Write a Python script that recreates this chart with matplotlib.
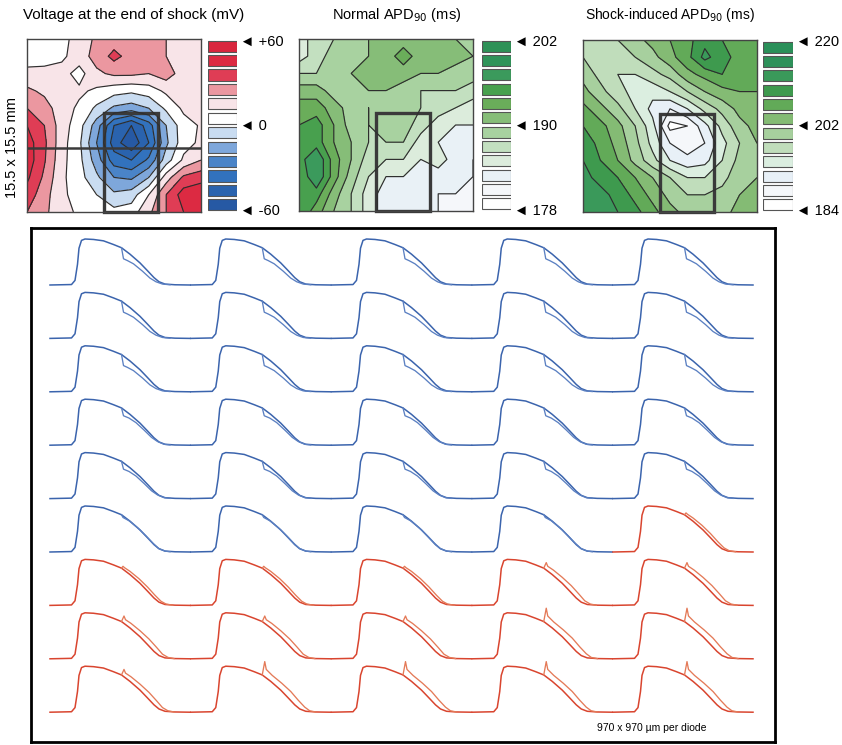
import numpy as np
import matplotlib
matplotlib.use("Agg")
import matplotlib.pyplot as plt
from matplotlib.patches import Rectangle

plt.rcParams['font.family'] = ['Liberation Sans', 'DejaVu Sans']

# ---------------- top maps: 11x11 grids, top row first ----------------
voltage_map = [
    [5, 5, 7, 14, 22, 25, 24, 22, 20, 15, 13],
    [5, 6, 8, 15, 24, 33, 26, 23, 20, 16, 14],
    [13, 13, 14, 6, 18, 22, 22, 20, 25, 15, 14],
    [22, 18, 14, 12, 8, 4, 2, 5, 12, 14, 13],
    [30, 24, 15, 8, -2, -12, -15, -10, 2, 12, 12],
    [40, 30, 15, 4, -15, -40, -50, -35, -10, 6, 11],
    [45, 32, 14, 2, -20, -45, -58, -40, -12, 6, 12],
    [46, 31, 13, 3, -15, -35, -40, -28, -5, 12, 20],
    [42, 28, 12, 4, -8, -20, -22, -10, 15, 32, 36],
    [36, 24, 12, 6, 0, -8, -5, 10, 30, 45, 48],
    [30, 22, 14, 8, 6, 3, 5, 18, 30, 40, 42],
]
normal_apd_map = [
    [185, 187, 188, 189, 190, 191, 191, 191, 191, 190, 190],
    [185, 187, 189, 190, 190, 191, 193, 191, 191, 191, 190],
    [188, 188, 189, 190, 191, 191, 191, 190, 190, 189, 189],
    [191, 191, 189, 189, 190, 190, 189, 188, 188, 188, 187],
    [193, 193, 191, 189, 188, 190, 189, 188, 187, 186, 185],
    [194, 195, 192, 189, 188, 190, 189, 187, 185, 184, 184],
    [194, 195, 192, 190, 188, 188, 188, 185, 184, 183, 183],
    [195, 198, 193, 190, 187, 186, 186, 184, 185, 183, 182],
    [194, 198, 193, 189, 186, 184, 184, 183, 183, 184, 182],
    [196, 195, 191, 188, 185, 183, 183, 183, 182, 182, 182],
    [196, 193, 190, 188, 185, 183, 183, 183, 182, 182, 182],
]
shock_apd_map = [
    [199, 198, 199, 201, 203, 205, 207, 210, 208, 206, 205],
    [199, 197, 197, 199, 201, 204, 207, 212, 209, 207, 206],
    [201, 198, 196, 196, 198, 200, 204, 206, 208, 207, 206],
    [203, 200, 197, 195, 194, 196, 199, 202, 204, 205, 205],
    [206, 203, 200, 196, 192, 190, 193, 197, 200, 203, 204],
    [208, 206, 203, 199, 194, 186, 187, 192, 197, 201, 203],
    [210, 207, 204, 200, 195, 190, 188, 190, 195, 199, 202],
    [211, 208, 205, 201, 197, 193, 191, 192, 196, 200, 202],
    [212, 210, 208, 205, 202, 199, 196, 196, 198, 201, 202],
    [213, 212, 210, 207, 204, 201, 199, 199, 200, 202, 203],
    [214, 213, 211, 209, 206, 203, 201, 200, 201, 203, 204],
]

voltage_levels = list(range(-60, 61, 10))
normal_levels = list(range(178, 203, 2))
shock_levels = list(range(184, 221, 3))

# colours from lowest band to highest band
voltage_colors = ['#2659a4', '#2a63ae', '#3272bd', '#4a84c8', '#7ea7db', '#c9dcf1',
                  '#ffffff', '#f8e4e8', '#eb97a0', '#df3d55', '#dc2a42', '#d9263e']
normal_colors = ['#ffffff', '#f5f7fa', '#e9f1f6', '#dcecdc', '#c3e0c0', '#a8d2a0',
                 '#86bd78', '#6aad5a', '#48a04e', '#3b9a5c', '#2f9359', '#2e9157']
shock_colors = ['#ffffff', '#f5f7fa', '#e8f0f7', '#dbeee0', '#c0ddbb', '#a7d09e',
                '#84bb74', '#62aa58', '#3e9a4e', '#3a995a', '#2e915a', '#2a9059']

voltage_ticks = ['+60', '0', '-60']
normal_ticks = ['202', '190', '178']
shock_ticks = ['220', '202', '184']

map_titles = ['Voltage at the end of shock (mV)',
              r'Normal APD$_{90}$ (ms)',
              r'Shock-induced APD$_{90}$ (ms)']

# ---------------- optical traces ----------------
# control action potential (ms, normalised amplitude)
ap_t = [0, 43, 50, 55, 58, 63, 70, 87, 107, 127, 143, 160, 180, 195, 208, 218, 230, 250, 280]
ap_v = [0, 0.01, 0.1, 0.45, 0.8, 0.97, 1.0, 0.99, 0.96, 0.88, 0.81, 0.67, 0.48, 0.31,
        0.16, 0.07, 0.02, 0.005, 0]

# shocked recordings, from the moment of the shock onward
shock_waves = {
    'b1': ([143, 147, 155, 167, 185, 200, 212, 225, 240],
           [0.81, 0.57, 0.53, 0.46, 0.30, 0.15, 0.07, 0.02, 0.005]),
    'b2': ([143, 147, 158, 172, 188, 203, 215, 228, 240],
           [0.81, 0.64, 0.59, 0.49, 0.33, 0.17, 0.08, 0.02, 0.005]),
    'b3': ([143, 146, 158, 175, 192, 206, 217, 230, 240],
           [0.81, 0.75, 0.68, 0.53, 0.35, 0.19, 0.08, 0.02, 0.005]),
    'r1': ([143, 146, 149, 160, 178, 195, 210, 222, 232, 245],
           [0.81, 0.85, 0.82, 0.74, 0.58, 0.40, 0.22, 0.09, 0.03, 0.005]),
    'r2': ([143, 148, 151, 162, 180, 198, 213, 225, 236, 248],
           [0.81, 0.93, 0.85, 0.77, 0.61, 0.43, 0.25, 0.10, 0.03, 0.005]),
    'r3': ([143, 148, 151, 163, 182, 200, 215, 228, 238, 250],
           [0.81, 1.10, 0.93, 0.80, 0.63, 0.45, 0.26, 0.11, 0.03, 0.005]),
}

trace_kind = [
    ['b1', 'b1', 'b1', 'b1', 'b1'],
    ['b1', 'b1', 'b1', 'b1', 'b1'],
    ['b1', 'b1', 'b1', 'b1', 'b1'],
    ['b2', 'b2', 'b2', 'b2', 'b2'],
    ['b2', 'b2', 'b2', 'b2', 'b2'],
    ['b3', 'b3', 'b3', 'b3', 'r1'],
    ['r1', 'r1', 'r1', 'r2', 'r2'],
    ['r2', 'r2', 'r2', 'r3', 'r3'],
    ['r2', 'r3', 'r3', 'r3', 'r3'],
]

W, H = 842, 745
fig = plt.figure(figsize=(W / 100, H / 100), dpi=100)


def px_rect(x0, y0, x1, y1):
    return [x0 / W, 1 - y1 / H, (x1 - x0) / W, (y1 - y0) / H]


def draw_map(box, cbox, grid, levels, colors, ticks, title, title_x, title_size):
    ax = fig.add_axes(px_rect(*box))
    g = np.array(grid, dtype=float)
    xs = np.linspace(0, 1, g.shape[1])
    ys = np.linspace(0, 1, g.shape[0])
    X, Y = np.meshgrid(xs, ys)
    ax.contourf(X, Y, g, levels=levels, colors=colors, extend='both')
    ax.contour(X, Y, g, levels=levels, colors='#2e2e2e', linewidths=0.85,
               linestyles='solid')
    ax.set_xlim(0, 1)
    ax.set_ylim(1, 0)
    ax.set_xticks([])
    ax.set_yticks([])
    for s in ax.spines.values():
        s.set_color('#444444')
        s.set_linewidth(1.0)
    # region shown in the traces below
    ax.add_patch(Rectangle((0.44, 0.43), 0.31, 0.57, fill=False,
                           edgecolor='#3a3a3a', linewidth=2.4, clip_on=False))
    fig.text(title_x / W, 1 - 15 / H, title, ha='center', va='center',
             fontsize=title_size)

    cax = fig.add_axes(px_rect(*cbox))
    cax.barh(range(len(colors)), [1] * len(colors), height=0.78, color=colors,
             edgecolor='#555555', linewidth=0.8)
    cax.set_xlim(0, 1)
    cax.set_ylim(-0.5, len(colors) - 0.5)
    cax.axis('off')
    for lab, yy in zip(ticks, [42, 126, 211]):
        fig.text((cbox[2] + 3) / W, 1 - yy / H, '\u25c4 ' + lab,
                 ha='left', va='center', fontsize=10.5)
    return ax


ax1 = draw_map((27, 39, 201, 212), (208, 39, 237, 212), voltage_map, voltage_levels,
               voltage_colors, voltage_ticks, map_titles[0], 134, 11)
ax1.axhline(0.63, color='#3a3a3a', linewidth=1.8)
draw_map((299, 39, 473, 211), (482, 39, 511, 211), normal_apd_map, normal_levels,
         normal_colors, normal_ticks, map_titles[1], 397, 10.5)
draw_map((583, 40, 757, 212), (763, 40, 793, 212), shock_apd_map, shock_levels,
         shock_colors, shock_ticks, map_titles[2], 670, 10)

fig.text(12 / W, 1 - 147 / H, '15.5 x 15.5 mm', rotation=90, ha='center', va='center',
         fontsize=10.5)

# ---------------- trace panel ----------------
tax = fig.add_axes(px_rect(31, 228, 775, 742))
col_step = 281.5       # ms between neighbouring columns
row_step = 53.4 / 46   # row spacing in units of AP amplitude
tax.set_xlim(-38, 1450)
tax.set_ylim(-(742 - 285) / 46, (285 - 228) / 46)
tax.set_xticks([])
tax.set_yticks([])
for s in tax.spines.values():
    s.set_color('black')
    s.set_linewidth(2.0)

ctl_t = np.array(ap_t, dtype=float)
ctl_v = np.array(ap_v, dtype=float)
for r, row in enumerate(trace_kind):
    for c, kind in enumerate(row):
        if kind.startswith('b'):
            c_ctl, c_shk = '#3b64ad', '#5b80c2'
        else:
            c_ctl, c_shk = '#d9452f', '#e47a58'
        st, sv = shock_waves[kind]
        x0 = c * col_step
        y0 = -r * row_step
        tax.plot(ctl_t + x0, ctl_v + y0, color=c_ctl, linewidth=1.1)
        tax.plot(np.array(st) + x0, np.array(sv) + y0, color=c_shk, linewidth=0.95)

fig.text(652 / W, 1 - 728 / H, '970 x 970 \u00b5m per diode', ha='center', va='center',
         fontsize=7.5)

fig.savefig('out.png', dpi=100)
